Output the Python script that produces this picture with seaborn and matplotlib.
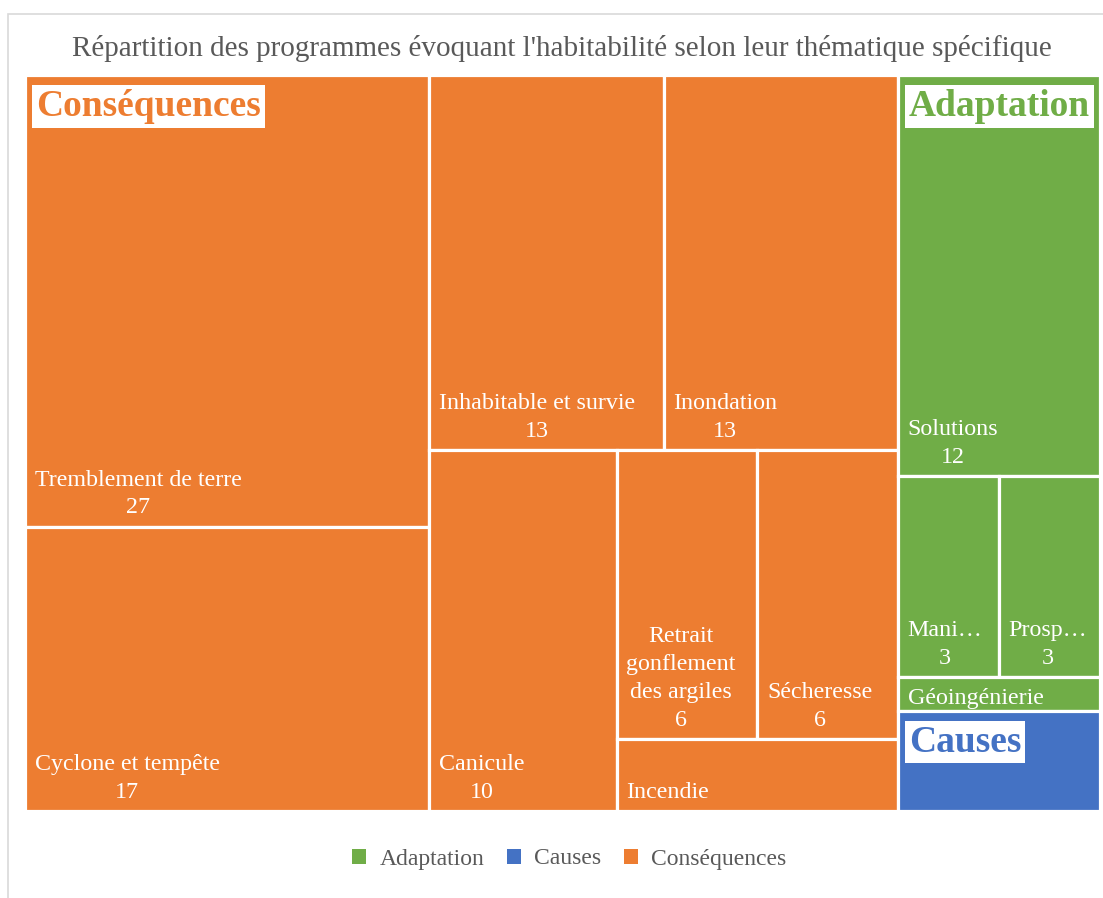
import textwrap
import matplotlib
matplotlib.use("Agg")
import matplotlib.pyplot as plt
from matplotlib.patches import Rectangle, Patch
import seaborn as sns

# ---- Données ----
categories = ["Conséquences", "Adaptation", "Causes"]
cons_labels = ["Tremblement de terre", "Cyclone et tempête", "Inhabitable et survie", "Inondation",
               "Canicule", "Retrait gonflement des argiles", "Sécheresse", "Incendie"]
cons_values = [27, 17, 13, 13, 10, 6, 6, 3]
adapt_labels = ["Solutions", "Mani…", "Prosp…", "Géoingénierie"]
adapt_values = [12, 3, 3, 1]
causes_labels = [""]
causes_values = [3]

legend_order = ["Adaptation", "Causes", "Conséquences"]
palette = dict(zip(legend_order, sns.color_palette(["#70AD47", "#4472C4", "#ED7D31"])))

title = "Répartition des programmes évoquant l'habitabilité selon leur thématique spécifique"


def worst(row, side):
    s = sum(row)
    t = s / side
    return max(max(t / (a / t), (a / t) / t) for a in row)


def squarify(values, x, y, w, h):
    # algorithme "squarified" classique (valeurs triées décroissantes)
    total = sum(values)
    areas = [v * w * h / total for v in values]
    rects = []
    i = 0
    while i < len(areas):
        side = min(w, h)
        row = [areas[i]]
        i += 1
        while i < len(areas) and worst(row + [areas[i]], side) <= worst(row, side):
            row.append(areas[i])
            i += 1
        s = sum(row)
        if w >= h:
            cw = s / h
            yy = y
            for a in row:
                rects.append((x, yy, cw, a / cw))
                yy += a / cw
            x += cw
            w -= cw
        else:
            rh = s / w
            xx = x
            for a in row:
                rects.append((xx, y, a / rh, rh))
                xx += a / rh
            y += rh
            h -= rh
    return rects


sns.set_theme(style="white")
plt.rcParams['font.family'] = ['Liberation Serif', 'DejaVu Serif']

fig = plt.figure(figsize=(11.03, 8.98), dpi=100)
ax = fig.add_axes([25 / 1103, 1 - 811 / 898, 1075 / 1103, 736 / 898])
W, H = 152, 100
ax.set_xlim(0, W)
ax.set_ylim(H, 0)
ax.axis('off')

# cadre gris du graphique
fig.patches.append(Rectangle((8 / 1103, -0.05), 1.2, 1.05 - 14 / 898, transform=fig.transFigure,
                             fill=False, ec="#d9d9d9", lw=1.2))

groups = {
    "Conséquences": (cons_labels, cons_values),
    "Adaptation": (adapt_labels, adapt_values),
    "Causes": (causes_labels, causes_values),
}
group_rects = squarify([sum(groups[c][1]) for c in categories], 0, 0, W, H)

leaf_fs = 17.3
font_px = leaf_fs * 100 / 72
line_px = 29

for cat, (gx, gy, gw, gh) in zip(categories, group_rects):
    labels, values = groups[cat]
    color = palette[cat]
    for lab, val, (x, y, w, h) in zip(labels, values, squarify(values, gx, gy, gw, gh)):
        ax.add_patch(Rectangle((x, y), w, h, fc=color, ec="white", lw=2.3))
        if not lab:
            continue
        (px0, py0), (px1, py1) = ax.transData.transform([(x, y), (x + w, y + h)])
        cw, ch = abs(px1 - px0), abs(py1 - py0)
        lines = textwrap.wrap(lab, max(1, int((cw - 20) / (font_px * 0.42))))
        if (len(lines) + 1) * line_px + 20 <= ch:
            lines.append(str(val))
        txt = "\n".join(lines)
        if len(lines) * line_px + 20 <= ch:
            ax.annotate(txt, xy=(x, y + h), xytext=(7, 6), textcoords="offset points",
                        ha="left", va="bottom", multialignment="center", color="white",
                        fontsize=leaf_fs, linespacing=1.42)
        else:
            ax.annotate(txt, xy=(x, y + h / 2), xytext=(7, -3), textcoords="offset points",
                        ha="left", va="center", multialignment="center", color="white",
                        fontsize=leaf_fs, linespacing=1.42)
    # étiquette de la catégorie
    ax.annotate(cat, xy=(gx, gy), xytext=(8, -10), textcoords="offset points",
                ha="left", va="top", color=color, fontsize=27, fontweight="bold",
                bbox=dict(boxstyle="square,pad=0.1", fc="white", ec="none"))

fig.text(0.5095, 1 - 56 / 898, title, ha="center", va="baseline", fontsize=21, color="#595959")

handles = [Patch(facecolor=palette[c], edgecolor="none") for c in legend_order]
leg = fig.legend(handles, legend_order, loc="center", bbox_to_anchor=(0.516, 1 - 859 / 898),
                 ncol=3, frameon=False, fontsize=17, handlelength=0.62, handleheight=0.62,
                 handletextpad=0.55, columnspacing=0.95)
for t in leg.get_texts():
    t.set_color("#595959")

fig.savefig("out.png", dpi=100)
